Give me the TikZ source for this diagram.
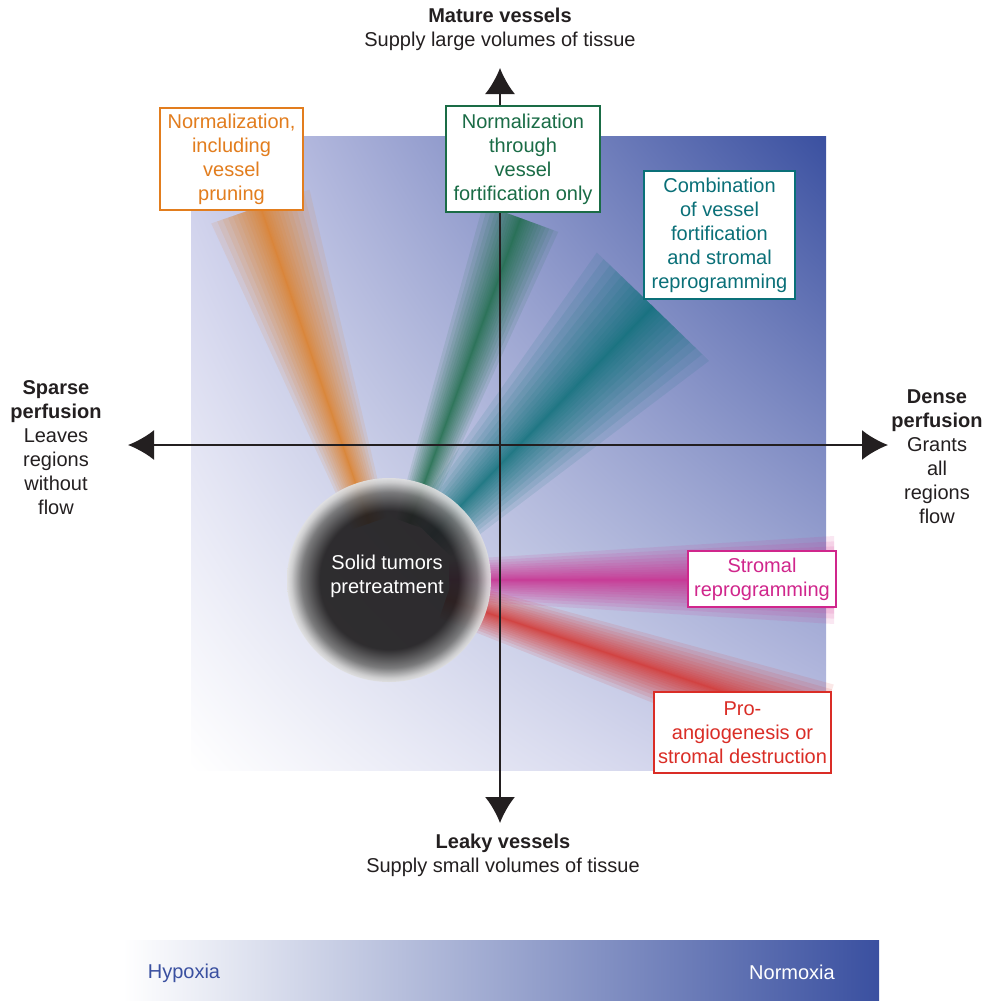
\documentclass[tikz,border=0pt]{standalone}
\usepackage{fontspec}
\setmainfont{Liberation Sans}
\usetikzlibrary{arrows.meta,shadings}

\definecolor{ink}{RGB}{35,31,32}
\definecolor{tumordark}{RGB}{32,30,31}
\definecolor{deepblue}{RGB}{58,80,160}
\definecolor{lavtop}{RGB}{203,205,234}
\definecolor{lavbot}{RGB}{196,199,230}
\definecolor{prunecol}{RGB}{226,125,30}
\definecolor{fortcol}{RGB}{26,108,70}
\definecolor{combcol}{RGB}{10,112,120}
\definecolor{stromcol}{RGB}{208,38,140}
\definecolor{angiocol}{RGB}{218,45,38}

% dark core with a pale rim (path edge sits at 25bp)
\pgfdeclareradialshading{tumorball}{\pgfpointorigin}{color(0bp)=(tumordark); color(17bp)=(tumordark); color(21.5bp)=(black!55); color(24bp)=(black!20); color(25bp)=(white!88!black); color(50bp)=(white!88!black)}

\tikzset{
  every node/.style={font=\fontsize{10}{12}\selectfont, text=ink, align=center},
  axis/.style={line width=1pt, ink, {Latex[length=13pt,width=15pt]}-{Latex[length=13pt,width=15pt]}},
  tbox/.style={draw=#1, text=#1, fill=white, line width=1pt, inner sep=1pt},
}

% colour, angle, start, end, half width near, half width far
\newcommand{\beam}[6]{%
  \begin{scope}[shift={(tumor)}, rotate=#2]
    \foreach \k [evaluate=\k as \f using (\k/16)^2] in {1,...,16}
      \fill[#1, fill opacity=0.11] (#3,-#5*\f) -- (#4,-#6*\f) -- (#4,#6*\f) -- (#3,#5*\f) -- cycle;
  \end{scope}}

\begin{document}
\begin{tikzpicture}[x=0.5pt, y=-0.5pt]
		\useasboundingbox (0,0) rectangle (989,1001);
		% backgrounds
		\shade[upper left=lavtop, upper right=deepblue, lower left=white, lower right=lavbot] (191,136) rectangle (826,770);
		\shade[left color=white, right color=deepblue] (123,940) rectangle (879,1001);
		% beams, then the tumour over them
		\coordinate (tumor) at (389,580);
		\beam{prunecol}{109}{60}{395}{18}{52}
		\beam{fortcol}{70}{60}{385}{14}{40}
		\beam{combcol}{46}{60}{380}{28}{78}
		\beam{stromcol}{0}{60}{445}{20}{44}
		\beam{angiocol}{-18.5}{60}{455}{20}{42}
		\shade[shading=tumorball, opacity=0.92] (tumor) circle[radius=51pt];
		\node[text=white] (tumorlabel) at (387,576) {Solid tumors\\pretreatment};
		% axes
		\coordinate (west) at (128,445);
		\coordinate (east) at (888,445);
		\coordinate (north) at (500,68);
		\coordinate (south) at (500,823);
		\draw[axis] (west) -- (east);
		\draw[axis] (north) -- (south);
		% therapy boxes
		\node[tbox=prunecol, minimum width=71.5pt, minimum height=51pt] (prune) at (231.5,159) {Normalization,\\including\\vessel\\pruning};
		\node[tbox=fortcol, minimum width=77pt, minimum height=53pt] (fortify) at (523,159) {Normalization\\through\\vessel\\fortification only};
		\node[tbox=combcol, minimum width=75.5pt, minimum height=64pt] (combine) at (719.5,235) {Combination\\of vessel\\fortification\\and stromal\\reprogramming};
		\node[tbox=stromcol, minimum width=74pt, minimum height=28pt] (stroma) at (762,579) {Stromal\\reprogramming};
		\node[tbox=angiocol, minimum width=88.5pt, minimum height=40.5pt] (angio) at (742.5,732.5) {Pro-\\angiogenesis or\\stromal destruction};
		% axis labels
		\node (mature) at (500,29) {\textbf{Mature vessels}\\Supply large volumes of tissue};
		\node (leaky) at (503,855) {\textbf{Leaky vessels}\\Supply small volumes of tissue};
		\node (sparse) at (56,448) {\textbf{Sparse}\\\textbf{perfusion}\\Leaves\\regions\\without\\flow};
		\node (dense) at (937,457) {\textbf{Dense}\\\textbf{perfusion}\\Grants\\all\\regions\\flow};
		\node[text=deepblue] (hypoxia) at (184,973) {Hypoxia};
		\node[text=white] (normoxia) at (792,972) {Normoxia};
	\end{tikzpicture}
\end{document}
